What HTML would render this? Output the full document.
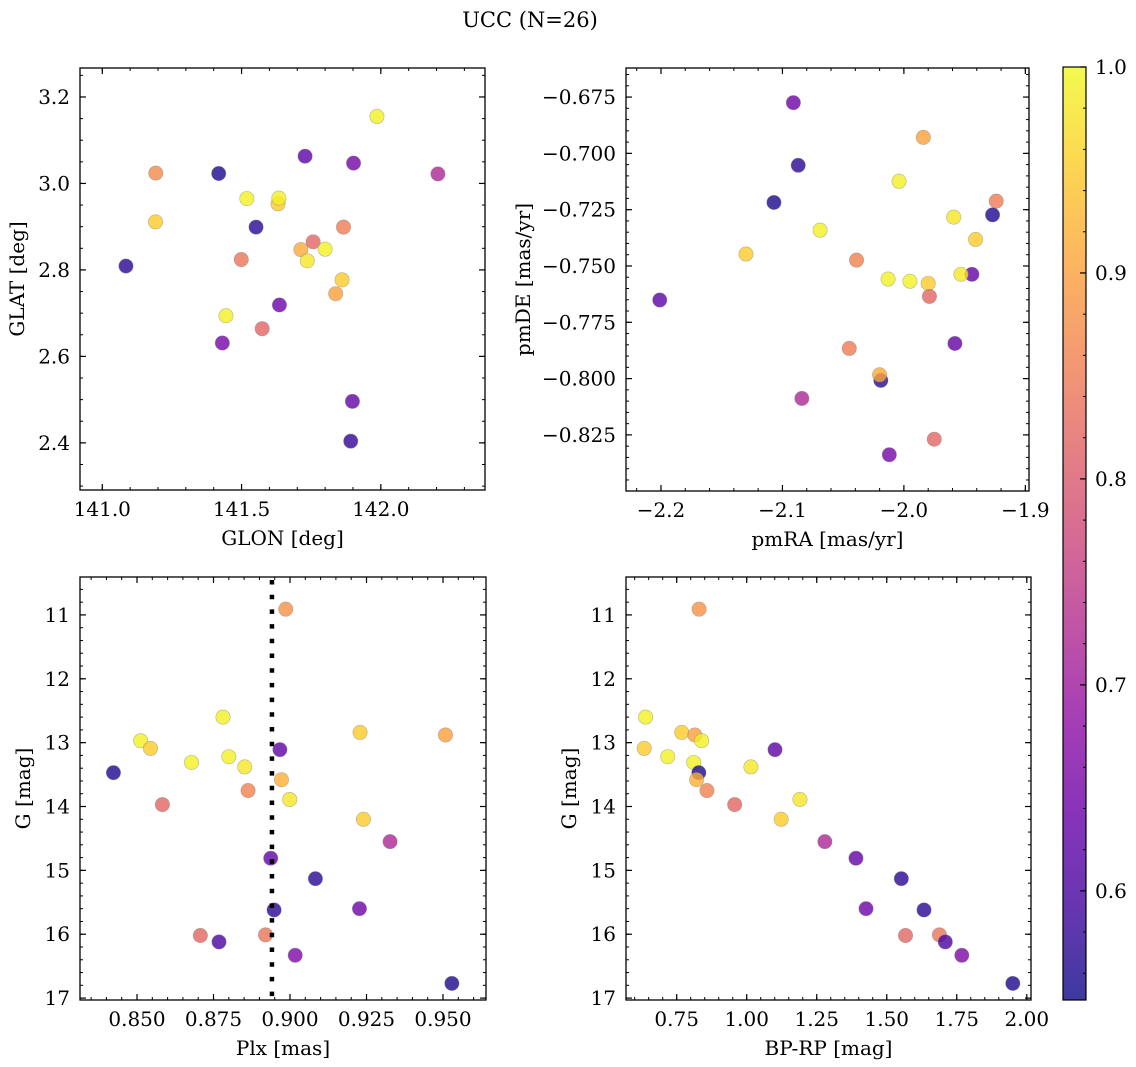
<!DOCTYPE html>
<html><head><meta charset="utf-8"><style>
html,body{margin:0;padding:0;background:#fff;}
svg{display:block;font-family:"DejaVu Serif","Liberation Serif",serif;}
</style></head><body>
<svg id="fig" width="1136" height="1067" viewBox="0 0 1136 1067" xmlns="http://www.w3.org/2000/svg">
<text x="530" y="27" text-anchor="middle" font-size="21">UCC (N=26)</text>
</svg>
<script>
// Panel 1: GLON / GLAT
const glon = [141.986,141.728,141.902,141.192,141.418,142.205,141.519,141.631,141.634,141.191,141.552,141.866,141.757,141.713,141.800,141.499,141.736,141.085,141.861,141.838,141.636,141.444,141.574,141.431,141.898,141.892];
const glat = [3.155,3.063,3.047,3.024,3.023,3.022,2.965,2.953,2.966,2.911,2.899,2.899,2.865,2.847,2.848,2.824,2.821,2.809,2.777,2.745,2.719,2.694,2.664,2.631,2.496,2.404];
const prob1 = [0.99,0.62,0.65,0.87,0.56,0.72,0.99,0.95,0.99,0.95,0.57,0.85,0.82,0.91,0.99,0.84,0.98,0.57,0.95,0.90,0.64,0.99,0.82,0.65,0.63,0.58];
// Panel 2: pmRA / pmDE
const pmra = [-2.091,-1.984,-2.087,-2.004,-1.924,-2.107,-1.927,-1.959,-2.069,-1.941,-2.130,-2.039,-1.944,-1.953,-2.013,-1.995,-1.980,-1.979,-2.201,-1.958,-2.045,-2.019,-2.020,-2.084,-1.975,-2.012];
const pmde = [-0.6775,-0.6929,-0.7053,-0.7124,-0.7212,-0.7218,-0.7273,-0.7283,-0.7341,-0.7382,-0.7447,-0.7474,-0.7537,-0.7537,-0.7558,-0.7568,-0.7577,-0.7635,-0.7651,-0.7844,-0.7866,-0.8008,-0.7983,-0.8088,-0.8269,-0.8338];
const prob2 = [0.64,0.90,0.57,0.99,0.85,0.56,0.56,0.98,0.99,0.95,0.95,0.86,0.63,0.98,0.99,0.99,0.95,0.82,0.62,0.63,0.85,0.57,0.91,0.72,0.82,0.65];
// Panels 3 & 4: Plx, BP-RP, G
const plx = [0.8986,0.8781,0.9229,0.9508,0.8512,0.8544,0.8967,0.8800,0.8678,0.8423,0.8852,0.8972,0.8863,0.8999,0.8583,0.9240,0.9327,0.8937,0.9083,0.9227,0.8948,0.8707,0.8920,0.8768,0.9017,0.9529];
const bprp = [0.830,0.639,0.768,0.815,0.839,0.634,1.101,0.718,0.811,0.829,1.015,0.821,0.858,1.190,0.957,1.123,1.279,1.390,1.552,1.426,1.633,1.567,1.688,1.709,1.768,1.950];
const gmag = [10.91,12.60,12.84,12.88,12.97,13.09,13.11,13.22,13.31,13.47,13.38,13.58,13.75,13.89,13.97,14.20,14.55,14.81,15.13,15.60,15.62,16.02,16.01,16.12,16.33,16.77];
const prob3 = [0.88,0.99,0.95,0.90,0.99,0.95,0.62,0.99,0.99,0.56,0.98,0.92,0.86,0.98,0.82,0.95,0.72,0.63,0.57,0.64,0.57,0.82,0.84,0.60,0.66,0.56];
const plxMean = [0.8941];
// tick labels
const ticks1x = [141.0,141.5,142.0], ticks1y = [2.4,2.6,2.8,3.0,3.2];
const ticks2x = [-2.2,-2.1,-2.0,-1.9], ticks2y = [-0.825,-0.8,-0.775,-0.75,-0.725,-0.7,-0.675];
const ticks3x = [0.85,0.875,0.9,0.925,0.95], ticksGy = [11,12,13,14,15,16,17];
const ticks4x = [0.75,1.0,1.25,1.5,1.75,2.0];
const ticksCb = [0.6,0.7,0.8,0.9,1.0];
const CMIN = 0.547, CMAX = 1.0;

const FS = 20;
const NS = "http://www.w3.org/2000/svg";
const fig = document.getElementById('fig');
const plasma = ["#0d0887","#41049d","#6a00a8","#8f0da4","#b12a90","#cc4778","#e16462","#f2844b","#fca636","#fcce25","#f0f921"];
function hex(h){return [parseInt(h.slice(1,3),16),parseInt(h.slice(3,5),16),parseInt(h.slice(5,7),16)];}
function cmap(t){t=Math.max(0,Math.min(1,t));const f=t*10,i=Math.min(9,Math.floor(f)),r=f-i;const a=hex(plasma[i]),b=hex(plasma[i+1]);return "rgb("+a.map((v,k)=>Math.round(v+(b[k]-v)*r)).join(",")+")";}
function el(tag,attrs,parent){const e=document.createElementNS(NS,tag);for(const k in attrs)e.setAttribute(k,attrs[k]);(parent||fig).appendChild(e);return e;}

function panel(name,box,xr,yr,xt,yt,xminor,yminor,xfmt,yfmt,xlab,ylab,xs,ys,ps,ylabX){
  const g=el('g',{});
  
  
  const sx=v=>box.x0+(v-xr[0])/(xr[1]-xr[0])*(box.x1-box.x0);
  const sy=v=>box.y1-(v-yr[0])/(yr[1]-yr[0])*(box.y1-box.y0);
  for(let i=0;i<xs.length;i++){
    const c=el('circle',{cx:sx(xs[i]),cy:sy(ys[i]),r:7.2,fill:cmap((ps[i]-CMIN)/(CMAX-CMIN)),'fill-opacity':0.8,stroke:'#888','stroke-opacity':0.6,'stroke-width':0.6},g);
    
    
  }
  const lo=Math.min(...xr),hi=Math.max(...xr);
  for(let v=Math.ceil(lo/xminor-1e-6)*xminor;v<=hi+1e-9;v+=xminor){const x=sx(v);
    el('line',{x1:x,x2:x,y1:box.y1,y2:box.y1-3,stroke:'#000','stroke-width':1},g);
    el('line',{x1:x,x2:x,y1:box.y0,y2:box.y0+3,stroke:'#000','stroke-width':1},g);}
  const ylo=Math.min(...yr),yhi=Math.max(...yr);
  for(let v=Math.ceil(ylo/yminor-1e-6)*yminor;v<=yhi+1e-9;v+=yminor){const y=sy(v);
    el('line',{x1:box.x0,x2:box.x0+3,y1:y,y2:y,stroke:'#000','stroke-width':1},g);
    el('line',{x1:box.x1,x2:box.x1-3,y1:y,y2:y,stroke:'#000','stroke-width':1},g);}
  xt.forEach(v=>{const x=sx(v);
    el('line',{x1:x,x2:x,y1:box.y1,y2:box.y1-6,stroke:'#000','stroke-width':1.2},g);
    el('line',{x1:x,x2:x,y1:box.y0,y2:box.y0+6,stroke:'#000','stroke-width':1.2},g);
    const t=el('text',{x:x,y:box.y1+26,'text-anchor':'middle','font-size':FS},g);t.textContent=xfmt(v);
    
    });
  yt.forEach(v=>{const y=sy(v);
    el('line',{x1:box.x0,x2:box.x0+6,y1:y,y2:y,stroke:'#000','stroke-width':1.2},g);
    el('line',{x1:box.x1,x2:box.x1-6,y1:y,y2:y,stroke:'#000','stroke-width':1.2},g);
    const t=el('text',{x:box.x0-10,y:y+7,'text-anchor':'end','font-size':FS},g);t.textContent=yfmt(v);
    
    });
  const fr=el('rect',{x:box.x0,y:box.y0,width:box.x1-box.x0,height:box.y1-box.y0,fill:'none',stroke:'#000','stroke-width':1.3},g);
  
  
  const xl=el('text',{x:(box.x0+box.x1)/2,y:box.y1+55,'text-anchor':'middle','font-size':FS},g);xl.textContent=xlab;
  
  
  const yc=(box.y0+box.y1)/2;
  const yl=el('text',{x:ylabX,y:yc,'text-anchor':'middle','font-size':FS,transform:'rotate(-90 '+ylabX+' '+yc+')'},g);yl.textContent=ylab;
  
  
  return {sx,sy,g};
}
const mfmt1=v=>"\u2212"+Math.abs(v).toFixed(1);
panel('panel-glon-glat',{x0:80,x1:485,y0:68,y1:490},[140.920,142.374],[2.291,3.267],ticks1x,ticks1y,0.1,0.05,v=>v.toFixed(1),v=>v.toFixed(1),'GLON [deg]','GLAT [deg]',glon,glat,prob1,24);
panel('panel-pm',{x0:626,x1:1029,y0:68,y1:491},[-2.2288,-1.897],[-0.8499,-0.6621],ticks2x,ticks2y,0.02,0.005,mfmt1,v=>"\u2212"+Math.abs(v).toFixed(3),'pmRA [mas/yr]','pmDE [mas/yr]',pmra,pmde,prob2,530);
const p3=panel('panel-plx-g',{x0:80,x1:486,y0:577,y1:1000},[0.83137,0.96405],[17.03,10.406],ticks3x,ticksGy,0.005,0.2,v=>v.toFixed(3),v=>String(v),'Plx [mas]','G [mag]',plx,gmag,prob3,30);
plxMean.forEach(v=>{const x=p3.sx(v);
  const ln=el('line',{x1:x,x2:x,y1:580,y2:1000,stroke:'#000','stroke-width':4.5,'stroke-dasharray':'4.5 10.2'});
  
  });
panel('panel-cmd',{x0:626,x1:1031,y0:577,y1:1000},[0.569,2.015],[17.03,10.406],ticks4x,ticksGy,0.05,0.2,v=>v.toFixed(2),v=>String(v),'BP-RP [mag]','G [mag]',bprp,gmag,prob3,576);
// colorbar
const cb={x0:1063,x1:1086,y0:67,y1:1000};
const defs=el('defs',{});const lg=el('linearGradient',{id:'cbg',x1:0,y1:1,x2:0,y2:0},defs);
for(let i=0;i<=20;i++){el('stop',{offset:i/20,'stop-color':cmap(i/20),'stop-opacity':0.8},lg);}
const cbr=el('rect',{x:cb.x0,y:cb.y0,width:cb.x1-cb.x0,height:cb.y1-cb.y0,fill:'url(#cbg)',stroke:'#000','stroke-width':1.2});


const cy=v=>cb.y1-(v-CMIN)/(CMAX-CMIN)*(cb.y1-cb.y0);
for(let v=0.56;v<=1.0001;v+=0.02){el('line',{x1:cb.x1,x2:cb.x1-3,y1:cy(v),y2:cy(v),stroke:'#000','stroke-width':1});}
ticksCb.forEach(v=>{const y=cy(v);el('line',{x1:cb.x1,x2:cb.x1-6,y1:y,y2:y,stroke:'#000','stroke-width':1.2});
  const t=el('text',{x:cb.x1+9,y:y+7,'font-size':FS});t.textContent=v.toFixed(1);
  
  });
</script>
</body></html>
